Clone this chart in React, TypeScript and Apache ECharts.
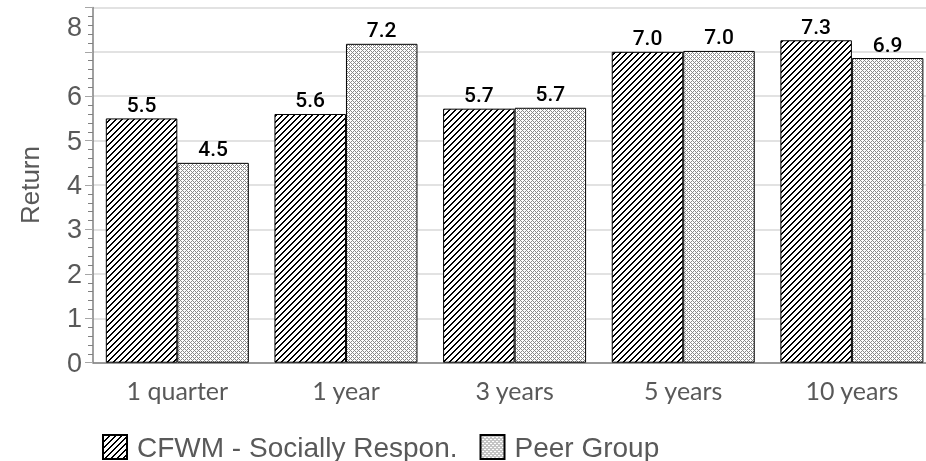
import React, { useEffect, useRef } from 'react';
import * as echarts from 'echarts';

const categories = ['1 quarter', '1 year', '3 years', '5 years', '10 years'];
const cfwmValues = [5.5, 5.6, 5.72, 7.0, 7.26];
const peerValues = [4.5, 7.18, 5.74, 7.02, 6.86];
const seriesNames = ['CFWM - Socially Respon.', 'Peer Group'];
const yTickLabels = ['0', '1', '2', '3', '4', '5', '6', '', '8'];

function makePattern(size: number, test: (x: number, y: number) => boolean, color: string) {
  const c = document.createElement('canvas');
  c.width = size;
  c.height = size;
  const ctx = c.getContext('2d') as CanvasRenderingContext2D;
  ctx.fillStyle = '#ffffff';
  ctx.fillRect(0, 0, size, size);
  ctx.fillStyle = color;
  for (let y = 0; y < size; y++) {
    for (let x = 0; x < size; x++) {
      if (test(x, y)) ctx.fillRect(x, y, 1, 1);
    }
  }
  return { image: c.toDataURL(), imageWidth: size, imageHeight: size, repeat: 'repeat' };
}

export default function App() {
  const ref = useRef<HTMLDivElement>(null);
  useEffect(() => {
    if (!ref.current) return;
    const chart = echarts.init(ref.current, null, { renderer: 'svg' });
    const hatch = makePattern(6, (x, y) => (x + y) % 6 === 0 || (x + y) % 6 === 1, '#000000');
    const cross = makePattern(
      4,
      (x, y) => (x + y) % 4 === 0 || (((x - y) % 4) + 4) % 4 === 0,
      '#8a8a8a'
    );
    const gray = '#595959';
    const arial = "'Liberation Sans', Arial, sans-serif";
    const labelStyle = {
      show: true,
      position: 'top',
      distance: 3,
      fontFamily: 'Roboto, sans-serif',
      fontWeight: 500,
      fontSize: 21,
      color: '#000',
      formatter: (p: any) => Number(p.value).toFixed(1),
    };
    chart.setOption({
      animation: false,
      grid: { left: 93, right: 3.8, top: 7.4, bottom: 98.3, containLabel: false },
      legend: {
        data: seriesNames,
        left: 102,
        top: 433,
        padding: 0,
        icon: 'rect',
        itemWidth: 24,
        itemHeight: 24,
        itemGap: 22,
        textStyle: {
          fontFamily: arial,
          fontSize: 28,
          color: gray,
          padding: [0, 0, 0, 5],
        },
      },
      xAxis: {
        type: 'category',
        data: categories,
        axisLine: { lineStyle: { color: '#808080', width: 1.5 } },
        axisTick: { alignWithLabel: true, length: 9, lineStyle: { color: '#808080' } },
        axisLabel: {
          fontFamily: 'Lato, sans-serif',
          fontSize: 25,
          color: gray,
          margin: 15,
        },
      },
      yAxis: {
        type: 'value',
        min: 0,
        max: 8,
        interval: 1,
        name: 'Return',
        nameLocation: 'middle',
        nameGap: 50,
        nameTextStyle: { fontFamily: arial, fontSize: 26, color: gray },
        axisLine: { show: true, lineStyle: { color: '#808080', width: 1.5 } },
        axisTick: { show: true, length: 8, lineStyle: { color: '#a6a6a6' } },
        minorTick: { show: true, splitNumber: 5, length: 5, lineStyle: { color: '#808080' } },
        splitLine: { show: true, lineStyle: { color: '#d9d9d9', width: 1.5 } },
        axisLabel: {
          fontFamily: arial,
          fontSize: 27,
          color: gray,
          margin: 11,
          formatter: (v: number) => (v === 8 ? '{top|' + yTickLabels[v] + '}' : yTickLabels[v] ?? ''),
          rich: {
            top: {
              fontFamily: arial,
              fontSize: 27,
              color: gray,
              padding: [39, 0, 0, 0],
            },
          },
        },
      },
      series: [
        {
          name: seriesNames[0],
          type: 'bar',
          data: cfwmValues,
          barWidth: 71.5,
          barGap: '0%',
          itemStyle: { color: hatch, borderColor: '#000', borderWidth: 1 },
          label: labelStyle,
        },
        {
          name: seriesNames[1],
          type: 'bar',
          data: peerValues,
          barWidth: 71.5,
          barGap: '0%',
          itemStyle: { color: cross, borderColor: '#000', borderWidth: 1 },
          label: labelStyle,
        },
      ],
    });
    return () => chart.dispose();
  }, []);
  return (
    <div
      ref={ref}
      style={{ position: 'fixed', left: 0, top: 0, width: 940, height: 461 }}
    />
  );
}
